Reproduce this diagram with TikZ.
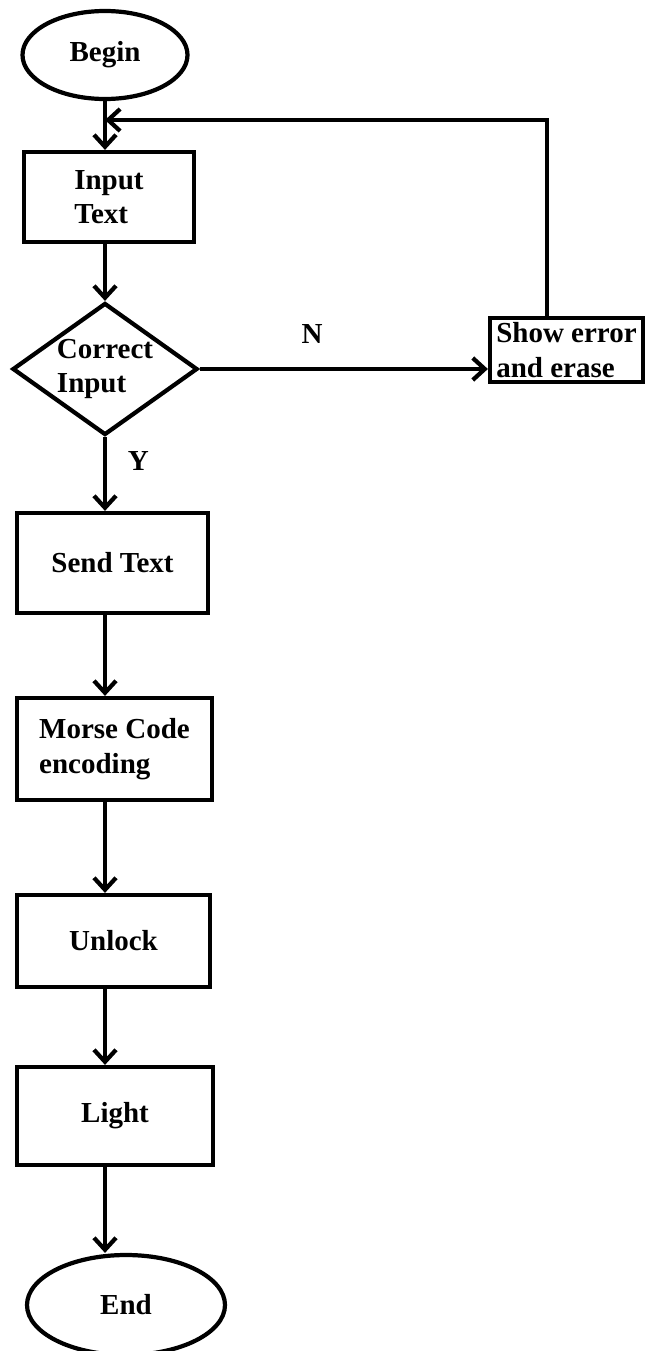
\documentclass[tikz,border=0pt]{standalone}
\usepackage{fontspec}
\setmainfont{Liberation Serif}
\usepackage{tikz}
\usetikzlibrary{shapes.geometric, arrows.meta, positioning, calc}

\begin{document}
\begin{tikzpicture}[
    terminal/.style={draw, ellipse, line width=2.4pt, minimum width=3.3cm, minimum height=1.76cm, inner sep=0pt, font=\fontsize{16.5}{19.5}\selectfont\bfseries},
    process/.style={draw, rectangle, line width=2.4pt, font=\fontsize{16.5}{19.5}\selectfont\bfseries, align=left},
    decision/.style={draw, diamond, aspect=1.4, line width=2.4pt, minimum width=3.7cm, minimum height=2.64cm, inner sep=0pt, font=\fontsize{16.5}{19.5}\selectfont\bfseries, align=left},
    flow/.style={line width=2.4pt, -{Straight Barb[length=2.4mm, width=4.4mm, line width=2.4pt]}},
    tag/.style={font=\fontsize{16.5}{19.5}\selectfont\bfseries}
]
    \useasboundingbox (0,0) rectangle (12.9,-27.02);

    % Start
    \node[terminal] (begin) at (2.1, -1.1) {Begin};

    % Input and check
    \node[process, minimum width=3.4cm, minimum height=1.8cm] (input) at (2.18, -3.94) {Input\\Text};
    \node[decision] (check) at (2.1, -7.38) {Correct\\Input};
    \node[process, minimum width=3.06cm, minimum height=1.28cm, inner sep=2pt] (error) at (11.33, -7.0) {Show error\\and erase};
    \coordinate (loop) at (2.1, -2.4);

    % Main chain
    \node[process, minimum width=3.82cm, minimum height=2.0cm] (send) at (2.25, -11.26) {Send Text};
    \node[process, minimum width=3.9cm, minimum height=2.04cm] (morse) at (2.29, -14.98) {Morse Code\\encoding};
    \node[process, minimum width=3.86cm, minimum height=1.84cm] (unlock) at (2.27, -18.82) {Unlock};
    \node[process, minimum width=3.92cm, minimum height=1.96cm] (light) at (2.3, -22.32) {Light};

    % Stop
    \node[terminal, minimum width=3.96cm, minimum height=2.0cm] (end) at (2.52, -26.1) {End};

    % Connections
    \draw[flow] (begin.south) -- (begin.south |- input.north);
    \draw[flow] (begin.south |- input.south) -- (check.north);
    \draw[flow] (check.east) -- (check.east -| error.west) node[tag, pos=0.39, above=0.35cm] {N};
    \draw[flow] ([xshift=-0.39cm]error.north) |- (loop);
    \draw[flow] (check.south) -- (check.south |- send.north) node[tag, pos=0.33, right=0.3cm] {Y};
    \draw[flow] (check.south |- send.south) -- (check.south |- morse.north);
    \draw[flow] (check.south |- morse.south) -- (check.south |- unlock.north);
    \draw[flow] (check.south |- unlock.south) -- (check.south |- light.north);
    \draw[flow] (check.south |- light.south) -- (check.south |- end.north);

\end{tikzpicture}
\end{document}
